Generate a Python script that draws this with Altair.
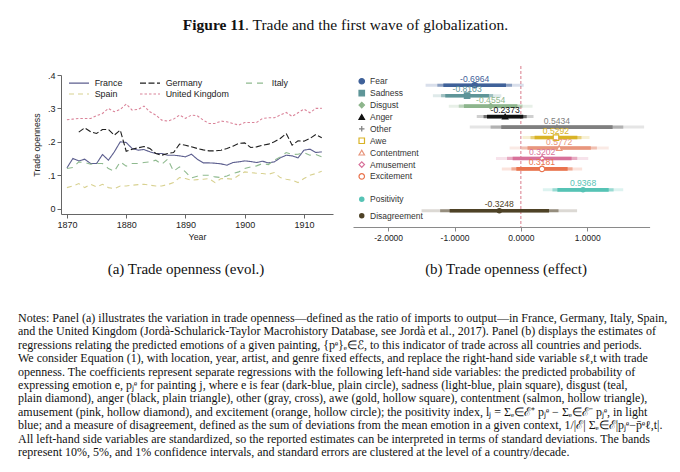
import altair as alt
import pandas as pd

# ---------------- Panel (a): trade openness by country ----------------
years = list(range(1870, 1914))
germany_years = list(range(1872, 1914))
france = [0.122, 0.150, 0.143, 0.148, 0.135, 0.135, 0.162, 0.145, 0.170, 0.200,
          0.198, 0.180, 0.175, 0.177, 0.170, 0.165, 0.165, 0.160, 0.160, 0.158,
          0.155, 0.163, 0.148, 0.137, 0.137, 0.136, 0.134, 0.130, 0.138, 0.140,
          0.143, 0.141, 0.138, 0.142, 0.137, 0.140, 0.152, 0.160, 0.158, 0.152,
          0.175, 0.178, 0.168, 0.170]
germany = [0.229, 0.242, 0.230, 0.225, 0.237, 0.237, 0.220, 0.235,
           0.172, 0.178, 0.182, 0.186, 0.180, 0.165, 0.160, 0.165, 0.168, 0.193,
           0.190, 0.185, 0.180, 0.176, 0.173, 0.173, 0.175, 0.180, 0.187, 0.195,
           0.197, 0.183, 0.185, 0.190, 0.193, 0.200, 0.210, 0.225, 0.190, 0.203,
           0.202, 0.210, 0.222, 0.212]
italy = [0.120, 0.123, 0.140, 0.138, 0.133, 0.135, 0.135, 0.120, 0.112, 0.140,
         0.127, 0.135, 0.135, 0.138, 0.140, 0.145, 0.133, 0.148, 0.112, 0.125,
         0.110, 0.092, 0.097, 0.100, 0.100, 0.095, 0.093, 0.098, 0.105, 0.110,
         0.120, 0.125, 0.128, 0.135, 0.132, 0.145, 0.155, 0.168, 0.162, 0.163,
         0.168, 0.160, 0.162, 0.155]
spain = [0.063, 0.068, 0.075, 0.063, 0.073, 0.065, 0.073, 0.063, 0.060, 0.068,
         0.068, 0.070, 0.072, 0.073, 0.070, 0.068, 0.068, 0.072, 0.078, 0.093,
         0.090, 0.085, 0.087, 0.088, 0.090, 0.078, 0.090, 0.090, 0.088, 0.100,
         0.110, 0.108, 0.106, 0.105, 0.103, 0.108, 0.093, 0.088, 0.085, 0.078,
         0.090, 0.100, 0.105, 0.112]
uk = [0.266, 0.268, 0.270, 0.270, 0.270, 0.278, 0.285, 0.300, 0.290, 0.297,
      0.313, 0.295, 0.297, 0.307, 0.290, 0.280, 0.265, 0.262, 0.268, 0.280,
      0.270, 0.280, 0.278, 0.265, 0.255, 0.255, 0.262, 0.260, 0.255, 0.250,
      0.258, 0.258, 0.258, 0.270, 0.272, 0.272, 0.280, 0.288, 0.276, 0.287,
      0.298, 0.287, 0.300, 0.300]

# legend fills column by column (2 rows): France/Spain, Germany/UK, Italy
countries = ["France", "Spain", "Germany", "United Kingdom", "Italy"]
country_colors = ["#5d5f8f", "#d8d190", "#1f1f1f", "#da8399", "#8fba8f"]
country_dashes = [[1, 0], [5, 4], [6, 2.5], [2.5, 2], [6, 5]]
x_ticks_a = [1870, 1880, 1890, 1900, 1910]
y_ticks_a = [0, 0.1, 0.2, 0.3, 0.4]

# ---------------- Panel (b): coefficient estimates ----------------
emotions = ["Fear", "Sadness", "Disgust", "Anger", "Other", "Awe",
            "Contentment", "Amusement", "Excitement"]
emo_coef = [-0.6964, -0.8103, -0.4554, -0.2373, 0.5434, 0.5292, 0.5772, 0.3202, 0.3181]
emo_se = [0.287, 0.200, 0.245, 0.166, 0.510, 0.196, 0.290, 0.270, 0.235]
emo_colors = ["#3f6199", "#5e9598", "#8db58c", "#111111", "#7f7f7f",
              "#d9b326", "#e8967d", "#d8719a", "#e9744e"]
emo_shapes = ["circle", "square", "diamond", "triangle-up", "M-1,0H1M0,-1V1",
              "square", "triangle-up", "diamond", "circle"]
emo_fills = ["#3f6199", "#5e9598", "#8db58c", "#111111", "transparent",
             "#ffffff", "#ffffff", "#ffffff", "#ffffff"]
indices = ["Positivity", "Disagreement"]
idx_coef = [0.9368, -0.3248]
idx_se = [0.235, 0.455]
idx_colors = ["#56c3b5", "#4e4226"]
row_order = emotions + [" ", "Positivity", "  ", "Disagreement"]
x_ticks_b = [-2, -1, 0, 1]
ci_levels = [2.576, 1.960, 1.645]   # 1%, 5%, 10%

# ---------------- Texts ----------------
title_bold = "Figure 11"
title_rest = ". Trade and the first wave of globalization."
caption_a = "(a)  Trade openness (evol.)"
caption_b = "(b)  Trade openness (effect)"
notes = [
    "Notes: Panel (a) illustrates the variation in trade openness\u2014defined as the ratio of imports to output\u2014in France, Germany, Italy, Spain,",
    "and the United Kingdom (Jord\u00e0-Schularick-Taylor Macrohistory Database, see Jord\u00e0 et al., 2017). Panel (b) displays the estimates of",
    "regressions relating the predicted emotions of a given painting, {p\u1d49}\u2091\u2208\u2130, to this indicator of trade across all countries and periods.",
    "We consider Equation (1), with location, year, artist, and genre fixed effects, and replace the right-hand side variable s\u2113,t with trade",
    "openness. The coefficients represent separate regressions with the following left-hand side variables: the predicted probability of",
    "expressing emotion e, p\u2c7c\u1d49 for painting j, where e is fear (dark-blue, plain circle), sadness (light-blue, plain square), disgust (teal,",
    "plain diamond), anger (black, plain triangle), other (gray, cross), awe (gold, hollow square), contentment (salmon, hollow triangle),",
    "amusement (pink, hollow diamond), and excitement (orange, hollow circle); the positivity index, l\u2c7c = \u03a3\u2091\u2208\u2130\u207a p\u2c7c\u1d49 \u2212 \u03a3\u2091\u2208\u2130\u207b p\u2c7c\u1d49, in light",
    "blue; and a measure of disagreement, defined as the sum of deviations from the mean emotion in a given context, 1/|\u2130| \u03a3\u2091\u2208\u2130|p\u2c7c\u1d49\u2212p\u0304\u1d49\u2113,t|.",
    "All left-hand side variables are standardized, so the reported estimates can be interpreted in terms of standard deviations. The bands",
    "represent 10%, 5%, and 1% confidence intervals, and standard errors are clustered at the level of a country/decade.",
]

SANS = "Liberation Sans"
SERIF = "Liberation Serif"

# layout (chart pixels; the page adds an 8px margin)
COLW = [53, 272, 19.7, 296.6]
ROWH = [58, 161, 240]

# ---------------- Build panel (a) ----------------
rows = []
for c, ys, vals in [("France", years, france), ("Germany", germany_years, germany),
                    ("Italy", years, italy), ("Spain", years, spain),
                    ("United Kingdom", years, uk)]:
    rows += [{"country": c, "year": y, "value": v} for y, v in zip(ys, vals)]
trade_df = pd.DataFrame(rows)

legend_a = alt.Legend(title=None, orient="none", legendX=12, legendY=11, columns=3,
                      columnPadding=14, rowPadding=0, symbolType="M-2,0H2",
                      symbolSize=100, symbolStrokeWidth=1.2, labelFontSize=8.9,
                      labelFont=SANS, labelColor="#222", labelOffset=9.7, padding=0)

panel_a = alt.Chart(trade_df).mark_line(strokeWidth=1.1).encode(
    x=alt.X("year:Q", scale=alt.Scale(domain=[1869, 1914.9], nice=False, zero=False),
            axis=alt.Axis(values=x_ticks_a, format="d", title="Year", grid=False, offset=-13,
                          tickSize=4, labelPadding=2, titlePadding=3.5)),
    y=alt.Y("value:Q", scale=alt.Scale(domain=[-0.016, 0.4], nice=False, zero=False, range=[148, 9]),
            axis=alt.Axis(values=y_ticks_a, grid=False, title="Trade openness",
                          labelExpr="datum.value == 0 ? '0' : replace(format(datum.value, '.1f'), '0.', '.')",
                          tickSize=4, labelPadding=2, titlePadding=6)),
    color=alt.Color("country:N", scale=alt.Scale(domain=countries, range=country_colors), legend=legend_a),
    strokeDash=alt.StrokeDash("country:N", scale=alt.Scale(domain=countries, range=country_dashes), legend=legend_a),
).properties(width=COLW[1], height=ROWH[1])

# ---------------- Build panel (b) ----------------
emo_df = pd.DataFrame({"emotion": emotions, "coef": emo_coef, "se": emo_se})
idx_df = pd.DataFrame({"index": indices, "coef": idx_coef, "se": idx_se})

xscale_b = alt.Scale(domain=[-2.53, 1.94], nice=False, zero=False)
yscale_b = alt.Scale(domain=row_order, range=[14, 150])
xaxis_b = alt.Axis(values=x_ticks_b, grid=False, title=None, tickSize=4, labelPadding=2,
                   labelExpr="replace(format(datum.value, '.4f'), '\u2212', '-')",
                   domainColor="#8a8a8a", tickColor="#8a8a8a", labelFontSize=8.5)


def coef_layers(df, field, names, colors, point_layer):
    # band/label colour scale (listed in reverse so it stays apart from the legend scales)
    cscale = alt.Scale(domain=names[::-1], range=colors[::-1])
    ycol = alt.Y(f"{field}:N", scale=yscale_b, axis=None)
    layers = []
    for z, op, w in zip(ci_levels, [0.2, 0.5, 1.0], [3.0, 3.2, 3.6]):
        layers.append(
            alt.Chart(df).transform_calculate(
                lo=f"datum.coef - {z} * datum.se", hi=f"datum.coef + {z} * datum.se"
            ).mark_rule(strokeWidth=w, opacity=op).encode(
                x=alt.X("lo:Q", scale=xscale_b, axis=xaxis_b),
                x2="hi:Q", y=ycol,
                color=alt.Color(f"{field}:N", scale=cscale, legend=None),
            )
        )
    layers.append(point_layer(alt.Chart(df), ycol))
    layers.append(
        alt.Chart(df).transform_calculate(
            lab="replace(format(datum.coef, '.4f'), '\u2212', '-')"
        ).mark_text(dy=-6.5, fontSize=8.6, font=SANS, baseline="middle").encode(
            x=alt.X("coef:Q", scale=xscale_b, axis=xaxis_b), y=ycol, text="lab:N",
            color=alt.Color(f"{field}:N", scale=cscale, legend=None),
        )
    )
    return alt.layer(*layers)


legend_b1 = alt.Legend(title=None, orient="none", legendX=4.5, legendY=11, rowPadding=0.9,
                       symbolSize=30, symbolStrokeWidth=1.2, symbolOpacity=1, labelFontSize=8.5,
                       labelFont=SANS, labelColor="#333", labelOffset=4, padding=0)
legend_b2 = alt.Legend(title=None, orient="none", legendX=4.5, legendY=129, rowPadding=7.5,
                       symbolSize=30, symbolOpacity=1, labelFontSize=8.5,
                       labelFont=SANS, labelColor="#333", labelOffset=4, padding=0)


def emo_points(base, ycol):
    return base.mark_point(size=30, strokeWidth=1.2, opacity=1).encode(
        x=alt.X("coef:Q", scale=xscale_b, axis=xaxis_b), y=ycol,
        stroke=alt.Stroke("emotion:N", scale=alt.Scale(domain=emotions, range=emo_colors), legend=legend_b1),
        fill=alt.Fill("emotion:N", scale=alt.Scale(domain=emotions, range=emo_fills), legend=legend_b1),
        shape=alt.Shape("emotion:N", scale=alt.Scale(domain=emotions, range=emo_shapes), legend=legend_b1),
    )


def idx_points(base, ycol):
    return base.mark_point(size=30, filled=True, opacity=1).encode(
        x=alt.X("coef:Q", scale=xscale_b, axis=xaxis_b), y=ycol,
        fill=alt.Fill("index:N", scale=alt.Scale(domain=indices, range=idx_colors), legend=legend_b2),
    )


emo_layer = coef_layers(emo_df, "emotion", emotions, emo_colors, emo_points)
idx_layer = coef_layers(idx_df, "index", indices, idx_colors, idx_points)

zero_rule = alt.Chart(pd.DataFrame({"z": [0]})).mark_rule(
    color="#d97c8c", strokeDash=[3, 2], strokeWidth=1
).encode(x=alt.X("z:Q", scale=xscale_b, axis=xaxis_b))

panel_b = alt.layer(zero_rule, emo_layer, idx_layer).resolve_scale(
    color="independent", shape="independent", fill="independent", stroke="independent"
).properties(width=COLW[3], height=ROWH[1])


# ---------------- Text cells & spacers ----------------
def spacer(w, h):
    return alt.Chart(pd.DataFrame({"t": [""]})).mark_text().encode(text="t:N").properties(width=w, height=h)


title_cell = alt.layer(
    alt.Chart(pd.DataFrame({"t": [title_bold]})).mark_text(
        font=SERIF, fontSize=15.5, fontWeight="bold", align="right", baseline="middle", color="#111"
    ).encode(text="t:N", x=alt.value(237), y=alt.value(17)),
    alt.Chart(pd.DataFrame({"t": [title_rest]})).mark_text(
        font=SERIF, fontSize=15.5, align="left", baseline="middle", color="#111"
    ).encode(text="t:N", x=alt.value(237), y=alt.value(17)),
).properties(width=COLW[0], height=ROWH[0])

notes_df = pd.DataFrame({"n": list(range(len(notes))), "t": notes})
text_cell = alt.layer(
    alt.Chart(pd.DataFrame({"t": [caption_a]})).mark_text(
        font=SERIF, fontSize=15, align="center", baseline="middle", color="#111"
    ).encode(text="t:N", x=alt.value(178), y=alt.value(42)),
    alt.Chart(pd.DataFrame({"t": [caption_b]})).mark_text(
        font=SERIF, fontSize=15, align="center", baseline="middle", color="#111"
    ).encode(text="t:N", x=alt.value(498), y=alt.value(42)),
    alt.Chart(notes_df).mark_text(
        font=SERIF, fontSize=12, align="left", baseline="middle", color="#111"
    ).encode(text="t:N", x=alt.value(10),
             y=alt.Y("n:O", scale=alt.Scale(range=[84, 232]), axis=None)),
).properties(width=COLW[0], height=ROWH[2])

cells = [
    title_cell, spacer(COLW[1], ROWH[0]), spacer(COLW[2], ROWH[0]), spacer(COLW[3], ROWH[0]),
    spacer(COLW[0], ROWH[1]), panel_a, spacer(COLW[2], ROWH[1]), panel_b,
    text_cell, spacer(COLW[1], ROWH[2]), spacer(COLW[2], ROWH[2]), spacer(COLW[3], ROWH[2]),
]

chart = alt.concat(*cells, columns=4, spacing=0, bounds="flush", align="each").resolve_scale(
    color="independent", strokeDash="independent", shape="independent", fill="independent",
    stroke="independent"
).properties(padding=0).configure_view(stroke=None).configure_axis(
    labelFont=SANS, titleFont=SANS, labelFontSize=9, titleFontSize=8.8, titleFontWeight="normal",
    labelColor="#222", titleColor="#222", domainColor="#666", tickColor="#666"
)

chart.save("out.html", embed_options={"renderer": "svg", "actions": False})
